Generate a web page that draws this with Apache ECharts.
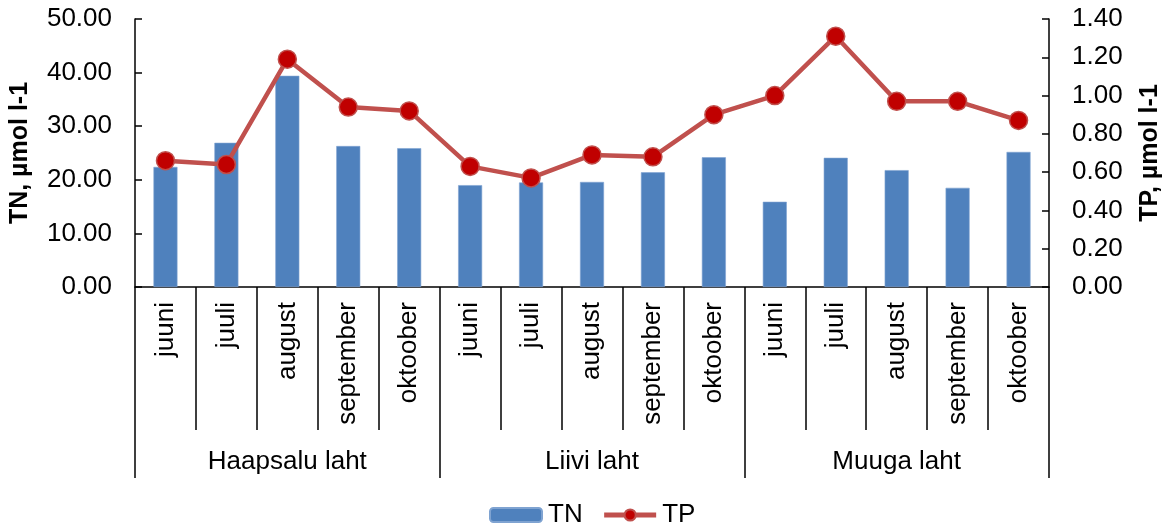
<!DOCTYPE html>
<html>
<head>
<meta charset="utf-8">
<script src="https://cdn.jsdelivr.net/npm/echarts@6/dist/echarts.min.js"></script>
<style>
  html, body { margin: 0; padding: 0; background: #fff; }
  #chart { width: 1171px; height: 527px; }
</style>
</head>
<body>
<div id="chart"></div>
<script>
// Sampling months, bays and measured nutrient concentrations
const months = ['juuni', 'juuli', 'august', 'september', 'oktoober',
                'juuni', 'juuli', 'august', 'september', 'oktoober',
                'juuni', 'juuli', 'august', 'september', 'oktoober'];
const bays = ['Haapsalu laht', 'Liivi laht', 'Muuga laht'];
const tnValues = [22.4, 26.9, 39.4, 26.3, 25.9, 19.0, 19.5, 19.6, 21.4, 24.2, 15.9, 24.1, 21.8, 18.5, 25.2];
const tpValues = [0.66, 0.64, 1.19, 0.94, 0.92, 0.63, 0.57, 0.69, 0.68, 0.90, 1.00, 1.31, 0.97, 0.97, 0.87];

const FONT = "'Liberation Sans', Arial, sans-serif";
const FS = 26;
const BLACK = '#000';

const chart = echarts.init(document.getElementById('chart'), null, { renderer: 'canvas' });

const valueAxisCommon = {
  type: 'value',
  nameLocation: 'middle',
  nameRotate: 90,
  nameTextStyle: { fontFamily: FONT, fontSize: 25, fontWeight: 'bold', color: BLACK },
  axisLine: { show: true, lineStyle: { color: BLACK, width: 1.5 } },
  axisTick: { show: true, inside: true, length: 7, lineStyle: { color: BLACK, width: 1.5 } },
  splitLine: { show: false },
  axisLabel: { fontFamily: FONT, fontSize: FS, color: BLACK, margin: 23 }
};

chart.setOption({
  animation: false,
  backgroundColor: '#fff',
  grid: { left: 133, right: 118, top: 19, bottom: 240, containLabel: false },
  legend: {
    left: 484,
    top: 497,
    padding: 5,
    itemWidth: 52,
    itemHeight: 14,
    itemGap: 19,
    textStyle: { fontFamily: FONT, fontSize: FS, color: BLACK, padding: [0, 0, 0, 1] },
    data: [
      { name: 'TN' },
      { name: 'TP', lineStyle: { width: 5 } }
    ]
  },
  xAxis: [
    {
      type: 'category',
      data: months,
      position: 'bottom',
      boundaryGap: true,
      axisLine: { show: true, lineStyle: { color: BLACK, width: 1.5 } },
      axisTick: { show: true, interval: 0, length: 143, lineStyle: { color: BLACK, width: 1.5 } },
      axisLabel: { interval: 0, rotate: 90, margin: 15, fontFamily: FONT, fontSize: FS, color: BLACK }
    },
    {
      type: 'category',
      data: bays,
      position: 'bottom',
      boundaryGap: true,
      axisLine: { show: false },
      axisTick: { show: true, interval: 0, length: 191, lineStyle: { color: BLACK, width: 1.5 } },
      axisLabel: { interval: 0, margin: 161, fontFamily: FONT, fontSize: FS, lineHeight: 28, color: BLACK }
    }
  ],
  yAxis: [
    Object.assign({}, valueAxisCommon, {
      name: 'TN, µmol l-1',
      nameGap: 102,
      min: 0, max: 50, interval: 10,
      position: 'left',
      axisLabel: Object.assign({}, valueAxisCommon.axisLabel, { formatter: v => v.toFixed(2) })
    }),
    Object.assign({}, valueAxisCommon, {
      name: 'TP, µmol l-1',
      nameGap: 89,
      min: 0, max: 1.4, interval: 0.2,
      position: 'right',
      axisLabel: Object.assign({}, valueAxisCommon.axisLabel, { formatter: v => v.toFixed(2) })
    })
  ],
  series: [
    {
      name: 'TN',
      type: 'bar',
      xAxisIndex: 0,
      yAxisIndex: 0,
      barWidth: 24,
      data: tnValues,
      itemStyle: { color: '#4F81BD', borderColor: '#7FA3D1', borderWidth: 0.6 }
    },
    {
      name: 'TP',
      type: 'line',
      xAxisIndex: 0,
      yAxisIndex: 1,
      data: tpValues,
      symbol: 'circle',
      symbolSize: 18,
      lineStyle: { color: '#C0504D', width: 4.5 },
      itemStyle: { color: '#C00000', borderColor: '#C0504D', borderWidth: 1.5 }
    }
  ]
});
</script>
</body>
</html>
